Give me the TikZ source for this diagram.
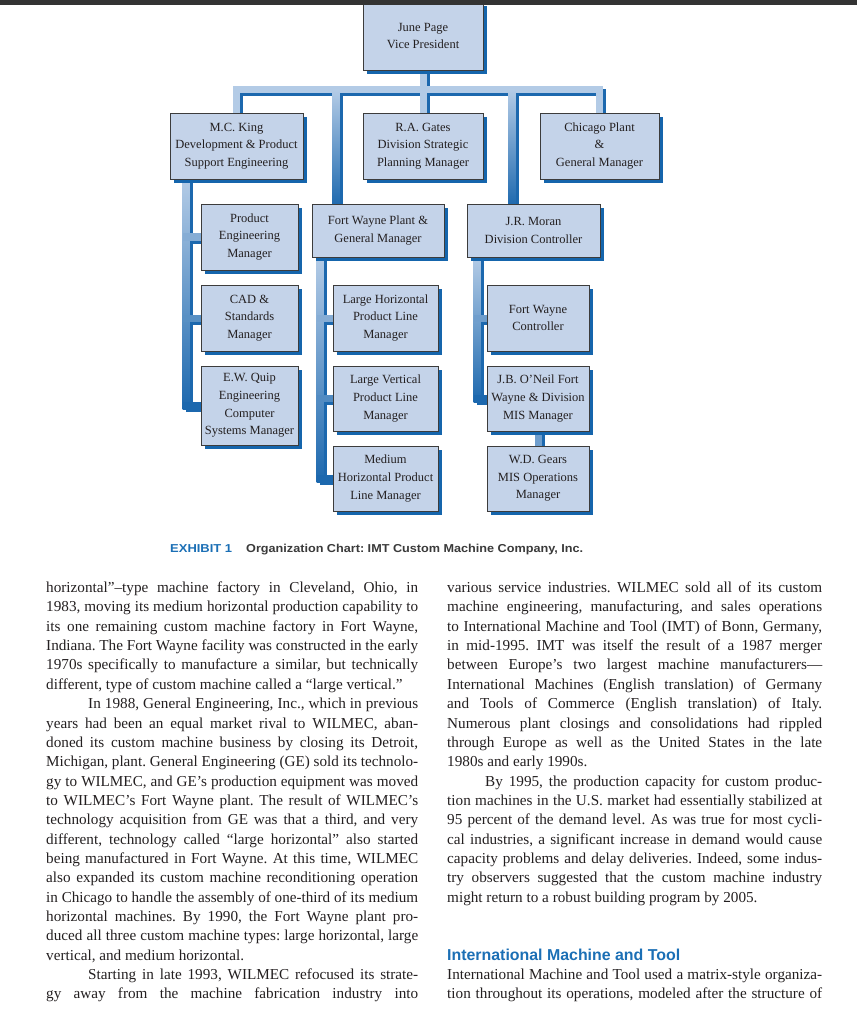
\documentclass[tikz,border=0pt]{standalone}
\usepackage{fontspec}
\usepackage{graphicx}
\setmainfont{Liberation Serif}
\newfontfamily\capfont{Liberation Sans}
\usetikzlibrary{calc,shadows}

\definecolor{topbar}{HTML}{333333}
\definecolor{boxfill}{HTML}{C4D3E9}
\definecolor{boxline}{HTML}{3C3C3C}
\definecolor{boxshade}{HTML}{1565AC}
\definecolor{linklight}{HTML}{B3CBE6}
\definecolor{linkdark}{HTML}{1C68AE}
\definecolor{exhibitblue}{HTML}{1B6FB5}
\definecolor{capgray}{HTML}{3A3A3A}
\definecolor{ink}{HTML}{231F20}

\pgfdeclarelayer{shade}
\pgfdeclarelayer{links}
\pgfsetlayers{shade,links,main}

\frenchspacing
\newcommand\boxfont{\fontsize{12.5}{17.7}\selectfont}
\newcommand\bodyfont{\fontsize{15.2}{19.35}\selectfont}
\newcommand\capsfont{\capfont\bfseries\fontsize{11.5}{14}\selectfont}

\newlength\colL \setlength\colL{372pt}
\newlength\colR \setlength\colR{375pt}
% justified line: stretch the spaces, squeeze a line that is too long
\newcommand\jline[2]{%
  \sbox0{#2}%
  \ifdim\wd0>#1\relax\resizebox{#1}{\height}{\usebox0}%
  \else\makebox[#1][s]{#2}\fi}
\newcommand\fitto[2]{\resizebox{#1}{\height}{#2}}

% connector with its dark offset edge
\newcommand\barlink[2][linklight]{%
  \begin{pgfonlayer}{shade}\draw[linkshadow] #2;\end{pgfonlayer}%
  \begin{pgfonlayer}{links}\draw[linklit,draw=#1] #2;\end{pgfonlayer}}
% long vertical connector, light at the top and dark at the foot
\newcommand\barfade[2]{%
  \begin{pgfonlayer}{shade}\draw[linkshadow] (#1) -- (#2);\end{pgfonlayer}%
  \begin{pgfonlayer}{links}\shade[top color=linklight,bottom color=linkdark]
    ($(#1)+(-3.5,0)$) rectangle ($(#2)+(3.5,3.5)$);\end{pgfonlayer}}

\begin{document}
\begin{tikzpicture}[x=1pt,y=-1pt,
  post/.style={draw=boxline,line width=0.7pt,fill=boxfill,
    drop shadow={shadow xshift=4pt,shadow yshift=-4pt,fill=boxshade,opacity=1},
    font=\boxfont,text=ink,align=center,inner sep=0pt},
  linkshadow/.style={draw=linkdark,line width=7pt,line cap=rect,
    transform canvas={shift={(3pt,-3pt)}}},
  linklit/.style={line width=7pt,line cap=rect},
  para/.style={anchor=base west,inner sep=0pt,font=\bodyfont,text=ink}]

  \useasboundingbox (0,0) rectangle (857,1024);

  % ============================================================
  %  ORGANIZATION CHART
  % ============================================================
  % ---- top level ----------------------------------------------
  \node[post,minimum width=120pt,minimum height=68pt] (vp) at (423,36)
    {June Page\\Vice President};

  % ---- first row ----------------------------------------------
  \node[post,minimum width=133pt,minimum height=66pt] (king) at (236.5,146)
    {M.C. King\\Development \& Product\\Support Engineering};
  \node[post,minimum width=120pt,minimum height=66pt] (gates) at (423,146)
    {R.A. Gates\\Division Strategic\\Planning Manager};
  \node[post,minimum width=119pt,minimum height=66pt] (chicago) at (599.5,146)
    {Chicago Plant\\\&\\General Manager};

  % ---- second row ---------------------------------------------
  \node[post,minimum width=132pt,minimum height=53pt] (fwplant) at (378,230.5)
    {Fort Wayne Plant \&\\General Manager};
  \node[post,minimum width=133pt,minimum height=53pt] (moran) at (533.5,230.5)
    {J.R. Moran\\Division Controller};

  % ---- development column -------------------------------------
  \node[post,minimum width=97pt,minimum height=66pt] (prodeng) at (249.5,237)
    {Product\\Engineering\\Manager};
  \node[post,minimum width=97pt,minimum height=66pt] (cad) at (249.5,318)
    {CAD \&\\Standards\\Manager};
  \node[post,minimum width=97pt,minimum height=79pt] (quip) at (249.5,405.5)
    {E.W. Quip\\Engineering\\Computer\\Systems Manager};

  % ---- plant column -------------------------------------------
  \node[post,minimum width=105pt,minimum height=66pt] (lhoriz) at (385.5,318)
    {Large Horizontal\\Product Line\\Manager};
  \node[post,minimum width=105pt,minimum height=65pt] (lvert) at (385.5,398.5)
    {Large Vertical\\Product Line\\Manager};
  \node[post,minimum width=105pt,minimum height=65pt] (medium) at (385.5,478.5)
    {Medium\\Horizontal Product\\Line Manager};

  % ---- controller column --------------------------------------
  \node[post,minimum width=102pt,minimum height=66pt] (fwctrl) at (538,318)
    {Fort Wayne\\Controller};
  \node[post,minimum width=102pt,minimum height=65pt] (oneil) at (538,398.5)
    {J.B. O’Neil Fort\\Wayne \& Division\\MIS Manager};
  \node[post,minimum width=102pt,minimum height=65pt] (gears) at (538,478.5)
    {W.D. Gears\\MIS Operations\\Manager};

  % ---- connectors ---------------------------------------------
  \coordinate (bus) at (423,90);
  \coordinate (fwtap) at (336,90);
  \coordinate (jrtap) at (512,90);
  \coordinate (kspine) at ([xshift=-50.5pt]king.south);
  \coordinate (fwspine) at ([xshift=-58pt]fwplant.south);
  \coordinate (jrspine) at ([xshift=-56.5pt]moran.south);

  \barlink{(vp.south) -- (bus)}
  \barlink{(king.north) |- (bus) -| (chicago.north)}
  \barlink{(bus) -- (gates.north)}
  \barfade{fwtap}{fwtap |- fwplant.north}
  \barfade{jrtap}{jrtap |- moran.north}

  \barfade{kspine}{kspine |- quip.west}
  \barlink[linklight!70!linkdark]{(kspine |- prodeng.west) -- (prodeng.west)}
  \barlink[linklight!40!linkdark]{(kspine |- cad.west) -- (cad.west)}
  \barlink[linkdark]{(kspine |- quip.west) -- (quip.west)}

  \barfade{fwspine}{fwspine |- medium.west}
  \barlink[linklight!70!linkdark]{(fwspine |- lhoriz.west) -- (lhoriz.west)}
  \barlink[linklight!35!linkdark]{(fwspine |- lvert.west) -- (lvert.west)}
  \barlink[linkdark]{(fwspine |- medium.west) -- (medium.west)}

  \barfade{jrspine}{jrspine |- oneil.west}
  \barlink[linklight!55!linkdark]{(jrspine |- fwctrl.west) -- (fwctrl.west)}
  \barlink[linkdark]{(jrspine |- oneil.west) -- (oneil.west)}
  \barlink[linklight!55!linkdark]{(oneil.south) -- (gears.north)}

  % ---- caption ------------------------------------------------
  \node[anchor=base west,inner sep=0pt,font=\capsfont,text=exhibitblue]
    (exhibit) at (170,552) {\fitto{62pt}{EXHIBIT 1}};
  \node[anchor=base west,inner sep=0pt,font=\capsfont,text=capgray]
    (caption) at (246,552)
    {\fitto{337pt}{Organization Chart: IMT Custom Machine Company, Inc.}};

  % ============================================================
  %  LEFT COLUMN
  % ============================================================
  \node[para] (L1) at (46,592.5) {\jline{\colL}{horizontal”–type machine factory in Cleveland, Ohio, in}};
  \node[para] (L2) at (46,611.9) {\jline{\colL}{1983, moving its medium horizontal production capability to}};
  \node[para] (L3) at (46,631.2) {\jline{\colL}{its one remaining custom machine factory in Fort Wayne,}};
  \node[para] (L4) at (46,650.6) {\jline{\colL}{Indiana. The Fort Wayne facility was constructed in the early}};
  \node[para] (L5) at (46,669.9) {\jline{\colL}{1970s specifically to manufacture a similar, but technically}};
  \node[para] (L6) at (46,689.3) {different, type of custom machine called a “large vertical.”};
  \node[para] (L7) at (88,708.6) {\jline{330pt}{In 1988, General Engineering, Inc., which in previous}};
  \node[para] (L8) at (46,728.0) {\jline{\colL}{years had been an equal market rival to WILMEC, aban-}};
  \node[para] (L9) at (46,747.3) {\jline{\colL}{doned its custom machine business by closing its Detroit,}};
  \node[para] (L10) at (46,766.7) {\jline{\colL}{Michigan, plant. General Engineering (GE) sold its technolo-}};
  \node[para] (L11) at (46,786.0) {\jline{\colL}{gy to WILMEC, and GE’s production equipment was moved}};
  \node[para] (L12) at (46,805.4) {\jline{\colL}{to WILMEC’s Fort Wayne plant. The result of WILMEC’s}};
  \node[para] (L13) at (46,824.7) {\jline{\colL}{technology acquisition from GE was that a third, and very}};
  \node[para] (L14) at (46,844.1) {\jline{\colL}{different, technology called “large horizontal” also started}};
  \node[para] (L15) at (46,863.4) {\jline{\colL}{being manufactured in Fort Wayne. At this time, WILMEC}};
  \node[para] (L16) at (46,882.8) {\jline{\colL}{also expanded its custom machine reconditioning operation}};
  \node[para] (L17) at (46,902.1) {\jline{\colL}{in Chicago to handle the assembly of one-third of its medium}};
  \node[para] (L18) at (46,921.5) {\jline{\colL}{horizontal machines. By 1990, the Fort Wayne plant pro-}};
  \node[para] (L19) at (46,940.8) {\jline{\colL}{duced all three custom machine types: large horizontal, large}};
  \node[para] (L20) at (46,960.2) {vertical, and medium horizontal.};
  \node[para] (L21) at (88,979.5) {\jline{330pt}{Starting in late 1993, WILMEC refocused its strate-}};
  \node[para] (L22) at (46,998.9) {\jline{\colL}{gy away from the machine fabrication industry into}};

  % ============================================================
  %  RIGHT COLUMN
  % ============================================================
  \node[para] (R1) at (447,592.5) {\jline{\colR}{various service industries. WILMEC sold all of its custom}};
  \node[para] (R2) at (447,611.9) {\jline{\colR}{machine engineering, manufacturing, and sales operations}};
  \node[para] (R3) at (447,631.2) {\jline{\colR}{to International Machine and Tool (IMT) of Bonn, Germany,}};
  \node[para] (R4) at (447,650.6) {\jline{\colR}{in mid-1995. IMT was itself the result of a 1987 merger}};
  \node[para] (R5) at (447,669.9) {\jline{\colR}{between Europe’s two largest machine manufacturers—}};
  \node[para] (R6) at (447,689.3) {\jline{\colR}{International Machines (English translation) of Germany}};
  \node[para] (R7) at (447,708.6) {\jline{\colR}{and Tools of Commerce (English translation) of Italy.}};
  \node[para] (R8) at (447,728.0) {\jline{\colR}{Numerous plant closings and consolidations had rippled}};
  \node[para] (R9) at (447,747.3) {\jline{\colR}{through Europe as well as the United States in the late}};
  \node[para] (R10) at (447,766.7) {1980s and early 1990s.};
  \node[para] (R11) at (485,786.0) {\jline{337pt}{By 1995, the production capacity for custom produc-}};
  \node[para] (R12) at (447,805.4) {\jline{\colR}{tion machines in the U.S. market had essentially stabilized at}};
  \node[para] (R13) at (447,824.7) {\jline{\colR}{95 percent of the demand level. As was true for most cycli-}};
  \node[para] (R14) at (447,844.1) {\jline{\colR}{cal industries, a significant increase in demand would cause}};
  \node[para] (R15) at (447,863.4) {\jline{\colR}{capacity problems and delay deliveries. Indeed, some indus-}};
  \node[para] (R16) at (447,882.8) {\jline{\colR}{try observers suggested that the custom machine industry}};
  \node[para] (R17) at (447,902.1) {might return to a robust building program by 2005.};
  \node[anchor=base west,inner sep=0pt,text=exhibitblue,
        font={\capfont\bfseries\fontsize{15.8}{18}\selectfont}]
    (imthead) at (447,960.2) {\fitto{233pt}{International Machine and Tool}};
  \node[para] (R21) at (447,979.5) {\jline{\colR}{International Machine and Tool used a matrix-style organiza-}};
  \node[para] (R22) at (447,998.9) {\jline{\colR}{tion throughout its operations, modeled after the structure of}};

  % ---- page edge ----------------------------------------------
  \fill[topbar] (0,0) rectangle (857,5);

\end{tikzpicture}
\end{document}
